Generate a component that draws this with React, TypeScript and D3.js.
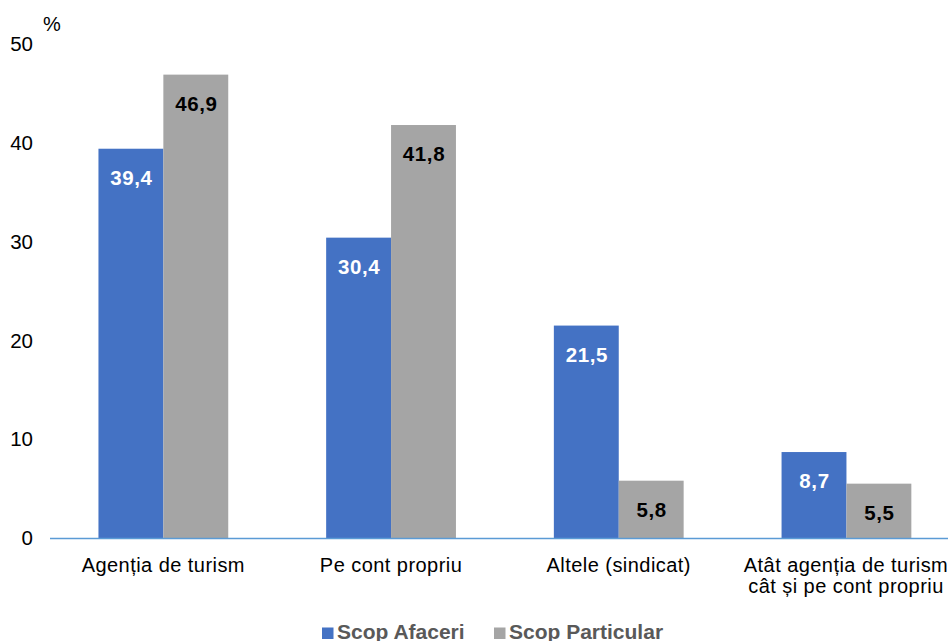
import React from "react";
import * as d3 from "d3";

const categories: string[][] = [
  ["Agenția de turism"],
  ["Pe cont propriu"],
  ["Altele (sindicat)"],
  ["Atât agenția de turism", "cât și pe cont propriu"],
];
const seriesNames = ["Scop Afaceri", "Scop Particular"];
const afaceri = [39.4, 30.4, 21.5, 8.7];
const particular = [46.9, 41.8, 5.8, 5.5];
const yTicks = [0, 10, 20, 30, 40, 50];
const colors = ["#4472C4", "#A5A5A5"];
const labelColors = ["#FFFFFF", "#000000"];

const W = 948;
const H = 641;
const FONT = "'Liberation Sans', Arial, sans-serif";

export default function App() {
  const x = d3
    .scaleBand<number>()
    .domain(categories.map((_, i) => i))
    .range([49.5, 960.3])
    .paddingInner(0.43)
    .paddingOuter(0.215);
  const y = d3.scaleLinear().domain([0, 50]).range([538, 44]);
  const inner = d3
    .scaleBand<number>()
    .domain([0, 1])
    .range([0, x.bandwidth()]);
  const series = [afaceri, particular];
  const fmt = (v: number) => v.toFixed(1).replace(".", ",");

  return (
    <svg
      width={W}
      height={H}
      style={{ position: "absolute", left: 0, top: 0, fontFamily: FONT }}
    >
      <rect width={W} height={H} fill="#fff" />
      {yTicks.map((t) => (
        <text
          key={t}
          x={33}
          y={y(t)}
          dy="0.35em"
          textAnchor="end"
          fontSize={20.5}
          fill="#000"
        >
          {t}
        </text>
      ))}
      <text x={43} y={31} fontSize={20} fill="#000">
        %
      </text>
      {series.map((vals, si) =>
        vals.map((v, ci) => {
          const bx = (x(ci) as number) + (inner(si) as number);
          const bw = inner.bandwidth();
          return (
            <g key={`${si}-${ci}`}>
              <rect
                x={bx}
                y={y(v)}
                width={bw}
                height={y(0) - y(v)}
                fill={colors[si]}
              />
              <text
                x={bx + bw / 2 + 0.5}
                y={y(v) + 36}
                textAnchor="middle"
                fontSize={20.5}
                fontWeight="bold"
                letterSpacing={0.6}
                fill={labelColors[si]}
              >
                {fmt(v)}
              </text>
            </g>
          );
        })
      )}
      <line x1={50} x2={W} y1={538.5} y2={538.5} stroke="#5B9BD5" strokeWidth={1.5} />
      {categories.map((lines, ci) => {
        const cx = Math.min((x(ci) as number) + x.bandwidth() / 2, 846);
        return (
          <text
            key={ci}
            textAnchor="middle"
            fontSize={20}
            letterSpacing={0.45}
            fill="#000"
          >
            {lines.map((l, li) => (
              <tspan key={li} x={cx} y={572 + li * 21}>
                {l}
              </tspan>
            ))}
          </text>
        );
      })}
      {seriesNames.map((n, i) => {
        const lx = [322, 494][i];
        return (
          <g key={n}>
            <rect x={lx} y={627.5} width={11.5} height={11.5} fill={colors[i]} />
            <text
              x={lx + 15}
              y={639}
              fontSize={21}
              fontWeight="bold"
              fill="#595959"
            >
              {n}
            </text>
          </g>
        );
      })}
    </svg>
  );
}
